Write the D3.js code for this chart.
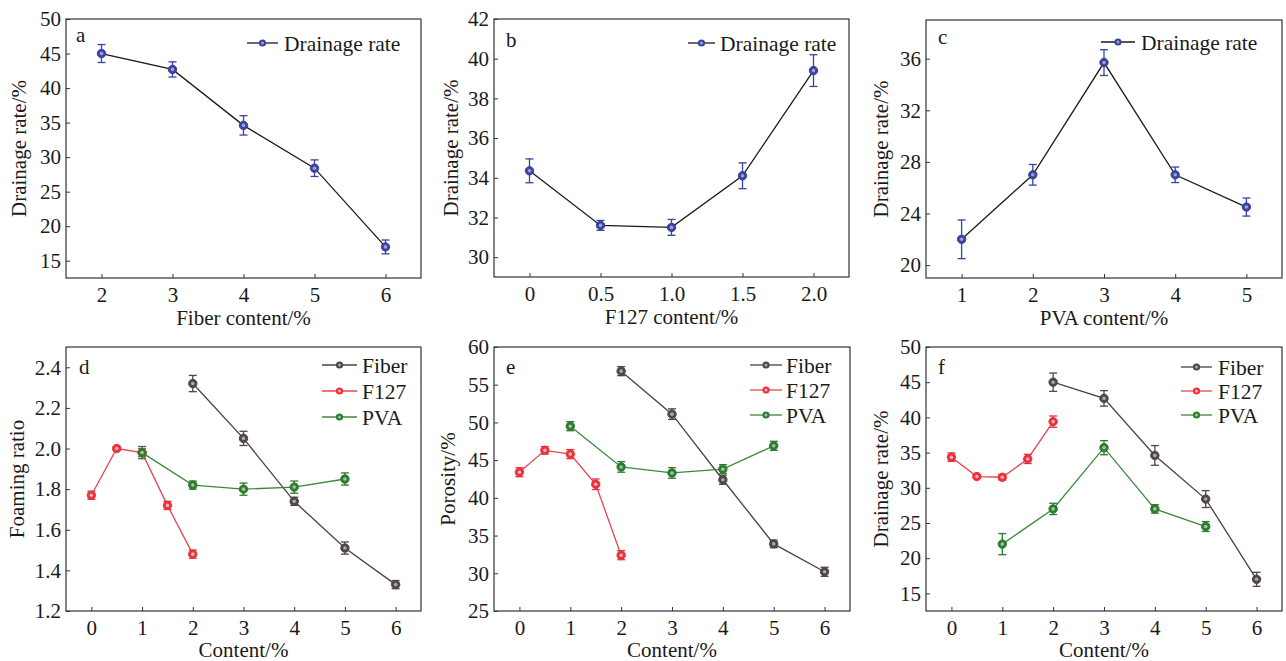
<!DOCTYPE html>
<html><head><meta charset="utf-8">
<script src="https://cdn.jsdelivr.net/npm/d3@7"></script>
<style>body{margin:0;background:#fff}svg{display:block}</style>
</head><body><svg id="c" width="1286" height="661" font-family="Liberation Serif"></svg>
<script>
// ---- data ----
const fiberX = [2, 3, 4, 5, 6];
const f127X = [0, 0.5, 1.0, 1.5, 2.0];
const pvaX = [1, 2, 3, 4, 5];

const fiberDrain = [45.0, 42.7, 34.6, 28.4, 17.0];
const fiberDrainErr = [1.3, 1.1, 1.4, 1.2, 1.0];
const f127Drain = [34.35, 31.6, 31.5, 34.1, 39.4];
const f127DrainErr = [0.6, 0.25, 0.4, 0.65, 0.8];
const pvaDrain = [22.0, 27.0, 35.7, 27.0, 24.5];
const pvaDrainErr = [1.5, 0.8, 1.0, 0.6, 0.7];

const fiberFoam = [2.32, 2.05, 1.74, 1.51, 1.33];
const fiberFoamErr = [0.04, 0.035, 0.02, 0.03, 0.02];
const f127Foam = [1.77, 2.00, 1.98, 1.72, 1.48];
const f127FoamErr = [0.02, 0.01, 0.02, 0.02, 0.02];
const pvaFoam = [1.98, 1.82, 1.80, 1.81, 1.85];
const pvaFoamErr = [0.03, 0.02, 0.03, 0.03, 0.03];

const fiberPor = [56.8, 51.1, 42.4, 33.9, 30.2];
const fiberPorErr = [0.6, 0.7, 0.6, 0.5, 0.6];
const f127Por = [43.4, 46.3, 45.8, 41.8, 32.4];
const f127PorErr = [0.6, 0.5, 0.6, 0.7, 0.6];
const pvaPor = [49.5, 44.1, 43.3, 43.8, 46.9];
const pvaPorErr = [0.6, 0.7, 0.7, 0.6, 0.6];

const seriesNames = ["Fiber", "F127", "PVA"];
const ticksA = [2, 3, 4, 5, 6];
const ticksB = [0, 0.5, 1.0, 1.5, 2.0];
const ticksC = [1, 2, 3, 4, 5];
const ticksContent = [0, 1, 2, 3, 4, 5, 6];

// ---- styles ----
const FONT = "Liberation Serif";
const blue = {line: "#1a1a1a", mark: "#3a439e", fill: "#9aa2dc"};
const gray = {line: "#4a4242", mark: "#4f4646", fill: "#b0a8a8"};
const red = {line: "#e8464e", mark: "#e8323c", fill: "#fab0b4"};
const green = {line: "#3a8a3a", mark: "#2e7a2e", fill: "#9cc89c"};

const svg = d3.select("#c");

function panel(o) {
  const g = svg.append("g").attr("font-family", FONT);
  const x = d3.scaleLinear().domain(o.xd).range([o.l, o.r]);
  const y = d3.scaleLinear().domain(o.yd).range([o.b, o.t]);
  const xa = g.append("g").attr("transform", `translate(0,${o.b})`)
    .call(d3.axisBottom(x).tickValues(o.xt).tickSize(-4).tickPadding(9).tickFormat(o.xf || (d => d)));
  const ya = g.append("g").attr("transform", `translate(${o.l},0)`)
    .call(d3.axisLeft(y).tickValues(o.yt).tickSize(-4).tickPadding(5).tickFormat(o.yf || (d => d)));
  [xa, ya].forEach(a => {
    a.attr("font-family", FONT).attr("font-size", 21);
    a.select(".domain").remove();
    a.selectAll(".tick line").attr("stroke", "#333").attr("stroke-width", 1);
    a.selectAll(".tick text").attr("fill", "#1a1a1a");
  });
  g.append("rect").attr("x", o.l).attr("y", o.t).attr("width", o.r - o.l).attr("height", o.b - o.t)
    .attr("fill", "none").attr("stroke", "#333").attr("stroke-width", 1.2);
  g.append("text").attr("x", (o.l + o.r) / 2).attr("y", o.b + o.xtoff).attr("text-anchor", "middle")
    .attr("font-size", 21).attr("fill", "#1a1a1a").text(o.xtitle);
  g.append("text").attr("transform", `translate(${o.l - o.yoff},${(o.t + o.b) / 2}) rotate(-90)`)
    .attr("text-anchor", "middle").attr("dy", "0.35em").attr("font-size", 21).attr("fill", "#1a1a1a").text(o.ytitle);
  g.append("text").attr("x", o.l + o.lab[0]).attr("y", o.t + o.lab[1]).attr("font-size", 21)
    .attr("fill", "#1a1a1a").text(o.letter);

  const line = d3.line().x(d => x(d[0])).y(d => y(d[1]));
  o.series.forEach(s => {
    const pts = s.xs.map((v, i) => [v, s.ys[i], s.es[i]]);
    g.append("path").datum(pts).attr("d", line).attr("fill", "none")
      .attr("stroke", s.c.line).attr("stroke-width", 1.3);
    const eb = g.append("g").attr("stroke", s.c.mark).attr("stroke-width", 1.3);
    pts.forEach(p => {
      const cx = x(p[0]), y1 = y(p[1] + p[2]), y2 = y(p[1] - p[2]);
      eb.append("line").attr("x1", cx).attr("x2", cx).attr("y1", y1).attr("y2", y2);
      eb.append("line").attr("x1", cx - 4).attr("x2", cx + 4).attr("y1", y1).attr("y2", y1);
      eb.append("line").attr("x1", cx - 4).attr("x2", cx + 4).attr("y1", y2).attr("y2", y2);
      g.append("circle").attr("cx", cx).attr("cy", y(p[1])).attr("r", 4.2)
        .attr("fill", s.c.mark).attr("stroke", s.c.mark).attr("stroke-width", 1);
      g.append("circle").attr("cx", cx).attr("cy", y(p[1])).attr("r", 1.8).attr("fill", s.c.fill);
    });
  });
  o.series.forEach((s, i) => {
    const ly = o.leg.y + i * o.leg.dy;
    const mx = (o.leg.x1 + o.leg.x2) / 2;
    g.append("line").attr("x1", o.leg.x1).attr("x2", o.leg.x2).attr("y1", ly).attr("y2", ly)
      .attr("stroke", s.c.line).attr("stroke-width", 1.3);
    g.append("circle").attr("cx", mx).attr("cy", ly).attr("r", 3.6).attr("fill", s.c.mark);
    g.append("circle").attr("cx", mx).attr("cy", ly).attr("r", 1.5).attr("fill", s.c.fill);
    g.append("text").attr("x", o.leg.tx).attr("y", ly).attr("dy", "0.35em").attr("font-size", 21.5)
      .attr("fill", "#1a1a1a").text(s.name);
  });
}

const f1 = d3.format(".1f");
panel({l: 66, r: 421, t: 19, b: 278, xd: [1.5, 6.5], yd: [12.5, 50], xt: ticksA, yt: d3.range(15, 51, 5),
  xtitle: "Fiber content/%", ytitle: "Drainage rate/%", xtoff: 47, yoff: 47, letter: "a", lab: [10, 23],
  leg: {x1: 247, x2: 278, tx: 284, y: 43, dy: 0},
  series: [{name: "Drainage rate", xs: fiberX, ys: fiberDrain, es: fiberDrainErr, c: blue}]});
panel({l: 494, r: 849, t: 19, b: 277, xd: [-0.25, 2.25], yd: [29, 42], xt: ticksB, yt: d3.range(30, 43, 2),
  xf: d => d === 0 ? "0" : f1(d),
  xtitle: "F127 content/%", ytitle: "Drainage rate/%", xtoff: 47, yoff: 43, letter: "b", lab: [12, 28],
  leg: {x1: 688, x2: 715, tx: 720, y: 43, dy: 0},
  series: [{name: "Drainage rate", xs: f127X, ys: f127Drain, es: f127DrainErr, c: blue}]});
panel({l: 926, r: 1282, t: 20, b: 278, xd: [0.5, 5.5], yd: [19, 39], xt: ticksC, yt: [20, 24, 28, 32, 36],
  xtitle: "PVA content/%", ytitle: "Drainage rate/%", xtoff: 47, yoff: 45, letter: "c", lab: [12, 24],
  leg: {x1: 1101, x2: 1135, tx: 1141, y: 42, dy: 0},
  series: [{name: "Drainage rate", xs: pvaX, ys: pvaDrain, es: pvaDrainErr, c: blue}]});

panel({l: 66, r: 421, t: 347, b: 611, xd: [-0.5, 6.5], yd: [1.2, 2.5], xt: ticksContent, yt: d3.range(1.2, 2.41, 0.2),
  yf: f1, xtitle: "Content/%", ytitle: "Foaming ratio", xtoff: 46, yoff: 49, letter: "d", lab: [13, 27],
  leg: {x1: 322, x2: 357, tx: 362, y: 365, dy: 26},
  series: [
    {name: seriesNames[0], xs: fiberX, ys: fiberFoam, es: fiberFoamErr, c: gray},
    {name: seriesNames[1], xs: f127X, ys: f127Foam, es: f127FoamErr, c: red},
    {name: seriesNames[2], xs: pvaX, ys: pvaFoam, es: pvaFoamErr, c: green}]});
panel({l: 494, r: 850, t: 347, b: 611, xd: [-0.5, 6.5], yd: [25, 60], xt: ticksContent, yt: d3.range(25, 61, 5),
  xtitle: "Content/%", ytitle: "Porosity/%", xtoff: 46, yoff: 46, letter: "e", lab: [12, 27],
  leg: {x1: 750, x2: 782, tx: 786, y: 365, dy: 25},
  series: [
    {name: seriesNames[0], xs: fiberX, ys: fiberPor, es: fiberPorErr, c: gray},
    {name: seriesNames[1], xs: f127X, ys: f127Por, es: f127PorErr, c: red},
    {name: seriesNames[2], xs: pvaX, ys: pvaPor, es: pvaPorErr, c: green}]});
panel({l: 926, r: 1282, t: 347, b: 611, xd: [-0.5, 6.5], yd: [12.5, 50], xt: ticksContent, yt: d3.range(15, 51, 5),
  xtitle: "Content/%", ytitle: "Drainage rate/%", xtoff: 46, yoff: 45, letter: "f", lab: [12, 27],
  leg: {x1: 1181, x2: 1212, tx: 1218, y: 367, dy: 24},
  series: [
    {name: seriesNames[0], xs: fiberX, ys: fiberDrain, es: fiberDrainErr, c: gray},
    {name: seriesNames[1], xs: f127X, ys: f127Drain, es: f127DrainErr, c: red},
    {name: seriesNames[2], xs: pvaX, ys: pvaDrain, es: pvaDrainErr, c: green}]});
</script></body></html>
